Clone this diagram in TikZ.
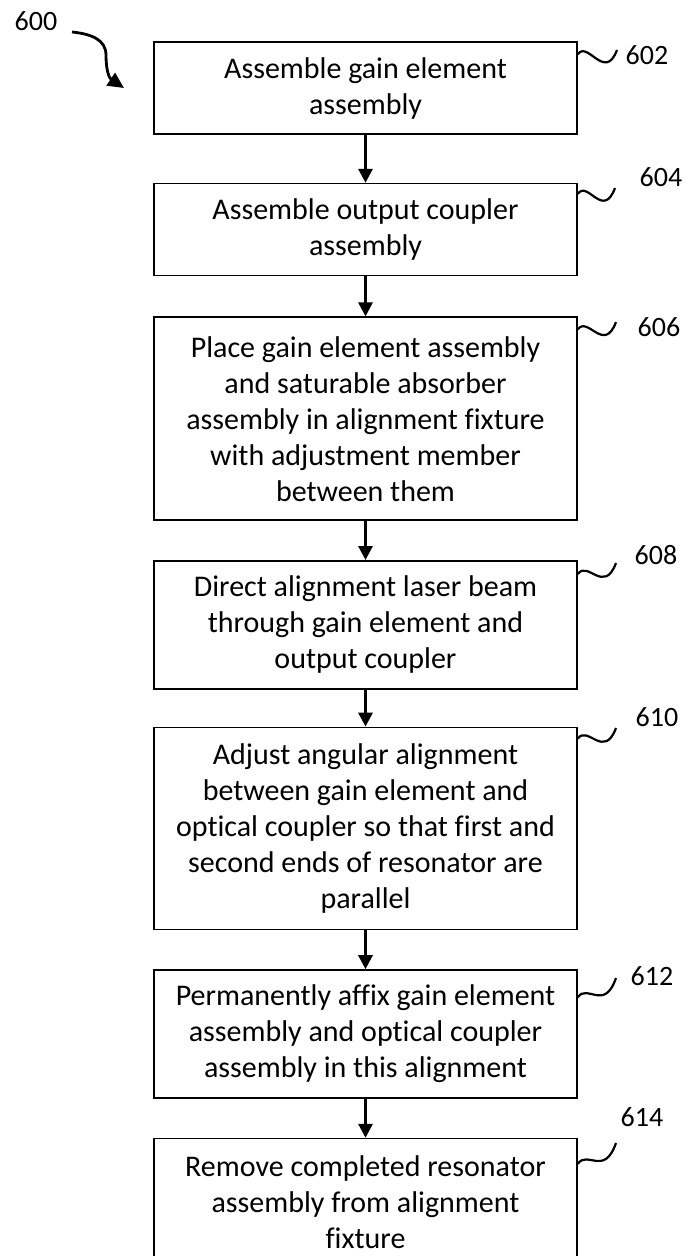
\documentclass[tikz,border=0pt]{standalone}
\usepackage{fontspec}
\setmainfont[Ligatures=NoCommon]{Carlito}
\usetikzlibrary{arrows.meta,positioning}

\begin{document}
\begin{tikzpicture}[
  x=1pt,y=-1pt,
  node distance=39pt,
  box/.style={draw,line width=1.6pt,minimum width=423pt,inner sep=6pt,
              align=center,font=\fontsize{30}{36}\selectfont},
  arr/.style={-{Triangle[length=14pt,width=14pt]},line width=3pt},
  tag/.style={font=\fontsize{28}{30}\selectfont,inner sep=0pt},
  wig/.style={line width=2.2pt}
]
\useasboundingbox (0,0) rectangle (686,1256);
\node[box,minimum height=92pt] (gain) at (365.5,88) {Assemble gain element\\assembly};
\node[box,minimum height=92pt,below=48pt of gain] (coupler) {Assemble output coupler\\assembly};
\node[box,minimum height=203pt,below=40pt of coupler] (place) {Place gain element assembly\\and saturable absorber\\assembly in alignment fixture\\with adjustment member\\between them};
\node[box,minimum height=128pt,below=of place] (beam) {Direct alignment laser beam\\through gain element and\\output coupler};
\node[box,minimum height=202pt,below=37pt of beam] (adjust) {Adjust angular alignment\\between gain element and\\optical coupler so that first and\\second ends of resonator are\\parallel};
\node[box,minimum height=128pt,below=of adjust] (affix) {Permanently affix gain element\\assembly and optical coupler\\assembly in this alignment};
\node[box,minimum height=128pt,below=of affix] (remove) {Remove completed resonator\\assembly from alignment\\fixture};

\draw[arr] (gain) -- (coupler);
\draw[arr] (coupler) -- (place);
\draw[arr] (place) -- (beam);
\draw[arr] (beam) -- (adjust);
\draw[arr] (adjust) -- (affix);
\draw[arr] (affix) -- (remove);

% reference numerals
\node[tag] (n600) at (36,21) {600};
\node[tag] (n602) at (647,55) {602};
\node[tag] (n604) at (661,177) {604};
\node[tag] (n606) at (659,327) {606};
\node[tag] (n608) at (656,555) {608};
\node[tag] (n610) at (657,717) {610};
\node[tag] (n612) at (652,976) {612};
\node[tag] (n614) at (642,1117) {614};

\coordinate (a600) at (72,32);
\coordinate (m600) at (106,55);
\coordinate (t600) at (124,88);
\draw[line width=2.8pt,-{Triangle[length=16pt,width=15pt]}] (a600) .. controls (92,34) and (106,40) .. (m600)
  .. controls (106,70) and (109,78) .. (t600);

\coordinate (w602) at (617,50);
\coordinate (w604) at (615,188);
\coordinate (w606) at (616,322);
\coordinate (w608) at (616,563);
\coordinate (w610) at (616,728);
\coordinate (w612) at (616,978);
\coordinate (w614) at (616,1143);
\draw[wig] ([yshift=-13pt]gain.north east) .. controls +(10,-14) and +(-12,32) .. (w602);
\draw[wig] ([yshift=-11pt]coupler.north east) .. controls +(10,-14) and +(-12,32) .. (w604);
\draw[wig] ([yshift=-13pt]place.north east) .. controls +(10,-14) and +(-12,32) .. (w606);
\draw[wig] ([yshift=-14pt]beam.north east) .. controls +(10,-14) and +(-12,32) .. (w608);
\draw[wig] ([yshift=-12pt]adjust.north east) .. controls +(10,-14) and +(-12,32) .. (w610);
\draw[wig] ([yshift=-28pt]affix.north east) .. controls +(10,-14) and +(-12,34) .. (w612);
\draw[wig] ([yshift=-26pt]remove.north east) .. controls +(10,-14) and +(-12,34) .. (w614);
\end{tikzpicture}
\end{document}
